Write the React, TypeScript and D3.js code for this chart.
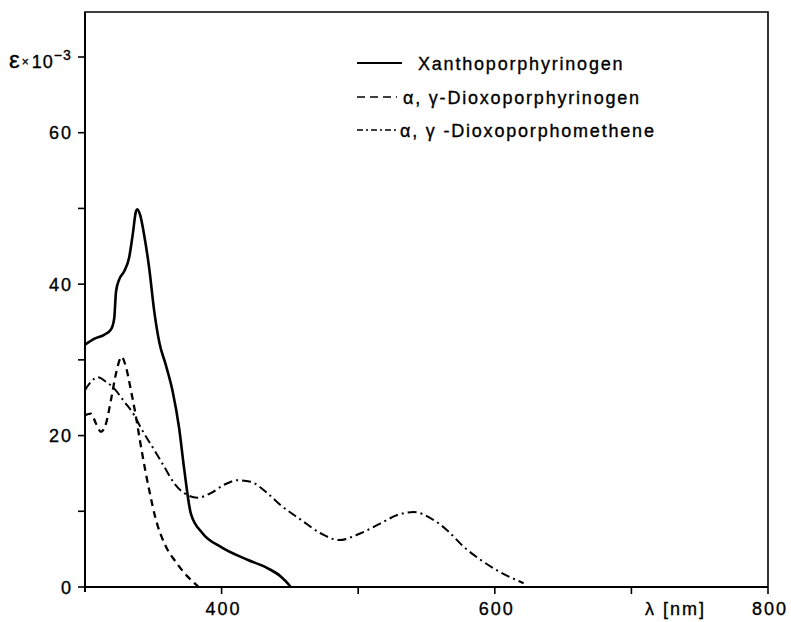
import React from "react";
import * as d3 from "d3";

// Wavelength (nm) and ε×10⁻³ values
const xanthoNm = [300, 307, 314, 319, 321.4, 322.7, 325, 328.7, 332.4, 334.9, 337.3, 338.3, 340.4, 343.3, 347, 350.7, 354.3, 359.2, 364.1, 368.9, 372.6, 377.5, 386, 399.4, 418.9, 433.5, 443.3, 449.3, 450.6];
const xanthoEps = [32.0, 32.8, 33.3, 34.0, 35.5, 39.0, 40.6, 41.7, 43.6, 46.5, 49.6, 49.9, 49.1, 46.5, 42.1, 36.4, 32.4, 29.3, 25.9, 21.0, 15.6, 9.7, 7.1, 5.3, 3.6, 2.5, 1.4, 0.3, 0];

const dioxoGenNm = [300, 304.4, 308, 311.7, 315.4, 319, 322.7, 326.8, 329.9, 333.6, 337.3, 339.7, 342.2, 347, 351.9, 358, 366.5, 375, 383.3];
const dioxoGenEps = [22.7, 22.9, 21.6, 20.5, 21.6, 24.7, 28.2, 30.4, 29.1, 26.0, 22.5, 19.9, 17.3, 12.8, 8.9, 5.8, 3.3, 1.4, 0];

const dioxoMethNm = [300, 304.4, 309.3, 315.4, 321.4, 328.7, 336, 341, 350.7, 358, 365.3, 372.6, 382.4, 392.1, 401.8, 411.6, 421.3, 433.5, 443.3, 457.9, 472.5, 485.9, 501.8, 516.4, 528.6, 540.7, 552.9, 565.1, 577.3, 589.5, 601.7, 621.1];
const dioxoMethEps = [26.0, 27.1, 27.7, 27.1, 26.2, 24.5, 22.7, 21.0, 18.1, 15.9, 13.7, 12.4, 11.8, 12.4, 13.5, 14.1, 13.9, 12.4, 10.8, 8.9, 7.1, 6.2, 7.1, 8.4, 9.5, 9.9, 9.1, 7.5, 5.3, 3.6, 2.2, 0.5];

const xTicks = [400, 500, 600, 700, 800];
const xTickLabels = ["400", "", "600", "", "800"];
const yTicks = [0, 10, 20, 30, 40, 50, 60, 70];
const yTickLabels = ["0", "", "20", "", "40", "", "60", ""];

const seriesNames = ["Xanthoporphyrinogen", "α, γ-Dioxoporphyrinogen", "α, γ -Dioxoporphomethene"];

const FONT = "'Liberation Sans', Arial, sans-serif";

export default function App() {
  const x = d3.scaleLinear().domain([300, 800]).range([85, 768]);
  const y = d3.scaleLinear().domain([0, 70]).range([587, 57]);

  const mk = (nm: number[], ep: number[]) =>
    d3
      .line<number>()
      .x((_, i) => x(nm[i]))
      .y((_, i) => y(ep[i]))
      .curve(d3.curveMonotoneX)(nm) as string;

  const series = [
    { d: mk(xanthoNm, xanthoEps), dash: "", w: 2.6 },
    { d: mk(dioxoGenNm, dioxoGenEps), dash: "7 5", w: 2.3 },
    { d: mk(dioxoMethNm, dioxoMethEps), dash: "9 4 2 4", w: 2.0 },
  ];

  const legendY = [63, 97, 130];
  const legendTextX = [418, 403, 400];
  const legendLineEnd = [402, 397, 398];

  const textStyle = { stroke: "#000", strokeWidth: 0.35 };

  return (
    <svg
      width={791}
      height={622}
      style={{ position: "absolute", left: 0, top: 0, background: "#fff" }}
    >
      {/* frame */}
      <path
        d={`M${x(300)},${y(0)} V12 H${x(800)} V${y(0)}`}
        fill="none"
        stroke="#000"
        strokeWidth={1.6}
      />
      <line x1={x(300)} x2={x(800)} y1={y(0)} y2={y(0)} stroke="#000" strokeWidth={2} />
      <line x1={x(300)} x2={x(300)} y1={12} y2={y(0) + 5} stroke="#000" strokeWidth={2} />

      {/* x ticks */}
      {xTicks.map((t, i) => (
        <g key={"xt" + t}>
          <line x1={x(t)} x2={x(t)} y1={y(0)} y2={y(0) + 7} stroke="#000" strokeWidth={1.6} />
          {xTickLabels[i] && (
            <text
              x={x(t) + 2}
              y={615}
              textAnchor="middle"
              fontFamily={FONT}
              fontSize={18}
              letterSpacing={2}
              style={textStyle}
            >
              {xTickLabels[i]}
            </text>
          )}
        </g>
      ))}
      <text x={645} y={615} fontFamily={FONT} fontSize={18} letterSpacing={2} style={textStyle}>
        λ [nm]
      </text>

      {/* y ticks */}
      {yTicks.map((t, i) => (
        <g key={"yt" + t}>
          <line x1={x(300) - 7} x2={x(300)} y1={y(t)} y2={y(t)} stroke="#000" strokeWidth={1.6} />
          {yTickLabels[i] && (
            <text
              x={x(300) - 12}
              y={y(t) + 6.5}
              textAnchor="end"
              fontFamily={FONT}
              fontSize={18}
              letterSpacing={2}
              style={textStyle}
            >
              {yTickLabels[i]}
            </text>
          )}
        </g>
      ))}
      <text x={9} y={68} fontFamily={FONT} fontSize={18} style={textStyle}>
        <tspan fontSize={24}>ε</tspan>
        <tspan fontSize={12} dx={2} dy={-2}>×</tspan>
        <tspan dx={3} dy={2} letterSpacing={1}>10</tspan>
        <tspan fontSize={14} dy={-8} letterSpacing={1}>−3</tspan>
      </text>

      {/* curves */}
      {series.map((s, i) => (
        <path
          key={"s" + i}
          d={s.d}
          fill="none"
          stroke="#000"
          strokeWidth={s.w}
          strokeDasharray={s.dash || undefined}
          strokeLinejoin="round"
        />
      ))}

      {/* legend */}
      {seriesNames.map((n, i) => (
        <g key={"lg" + i}>
          <line
            x1={357}
            x2={legendLineEnd[i]}
            y1={legendY[i]}
            y2={legendY[i]}
            stroke="#000"
            strokeWidth={i === 0 ? 1.8 : 1.6}
            strokeDasharray={i === 0 ? undefined : i === 1 ? "8 5" : "6 3 2 3"}
          />
          <text
            x={legendTextX[i]}
            y={legendY[i] + 6.5}
            fontFamily={FONT}
            fontSize={18}
            letterSpacing={1.8}
            style={textStyle}
          >
            {n}
          </text>
        </g>
      ))}
    </svg>
  );
}
